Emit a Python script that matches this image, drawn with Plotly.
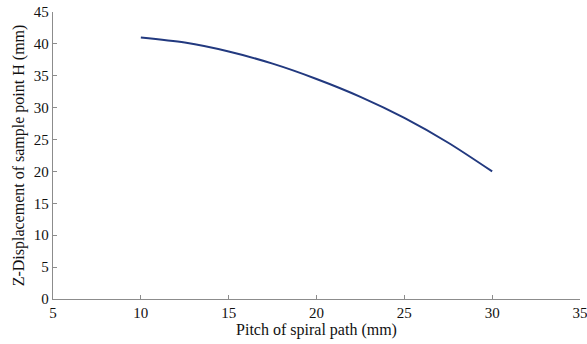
import plotly.graph_objects as go

pitch = [10, 12.5, 15, 17.5, 20, 22.5, 25, 27.5, 30]
z_disp = [41.0, 40.2, 38.8, 36.9, 34.5, 31.7, 28.4, 24.5, 20.0]

x_ticks = [5, 10, 15, 20, 25, 30, 35]
y_ticks = [0, 5, 10, 15, 20, 25, 30, 35, 40, 45]

fig = go.Figure()
fig.add_trace(go.Scatter(
    x=pitch, y=z_disp, mode="lines",
    line=dict(color="#22397f", width=2, shape="spline", smoothing=0.8),
    showlegend=False,
))

fam = "Liberation Serif, Times New Roman, serif"

fig.update_layout(
    width=587, height=344,
    margin=dict(l=53, r=7, t=12, b=45),
    paper_bgcolor="white", plot_bgcolor="white",
    font=dict(family=fam, size=15, color="#111111"),
)
fig.update_xaxes(
    range=[5, 35], tickvals=x_ticks, showgrid=False, zeroline=False,
    showline=True, linecolor="#8c8c8c", linewidth=1.3,
    ticks="inside", ticklen=4, tickcolor="#8c8c8c",
    ticklabeloverflow="allow", automargin=False,
    tickfont=dict(family=fam, size=15, color="#111111"),
    title=dict(text="Pitch of spiral path (mm)", font=dict(family=fam, size=16, color="#111111"), standoff=3),
)
fig.update_yaxes(
    range=[0, 45], tickvals=y_ticks, showgrid=False, zeroline=False,
    showline=True, linecolor="#8c8c8c", linewidth=1.3,
    ticks="inside", ticklen=4, tickcolor="#8c8c8c",
    ticklabeloverflow="allow", automargin=False,
    tickfont=dict(family=fam, size=15, color="#111111"),
    title=dict(text="Z-Displacement of sample point H (mm)", font=dict(family=fam, size=16, color="#111111"), standoff=5),
)

fig.write_html("out.html")
